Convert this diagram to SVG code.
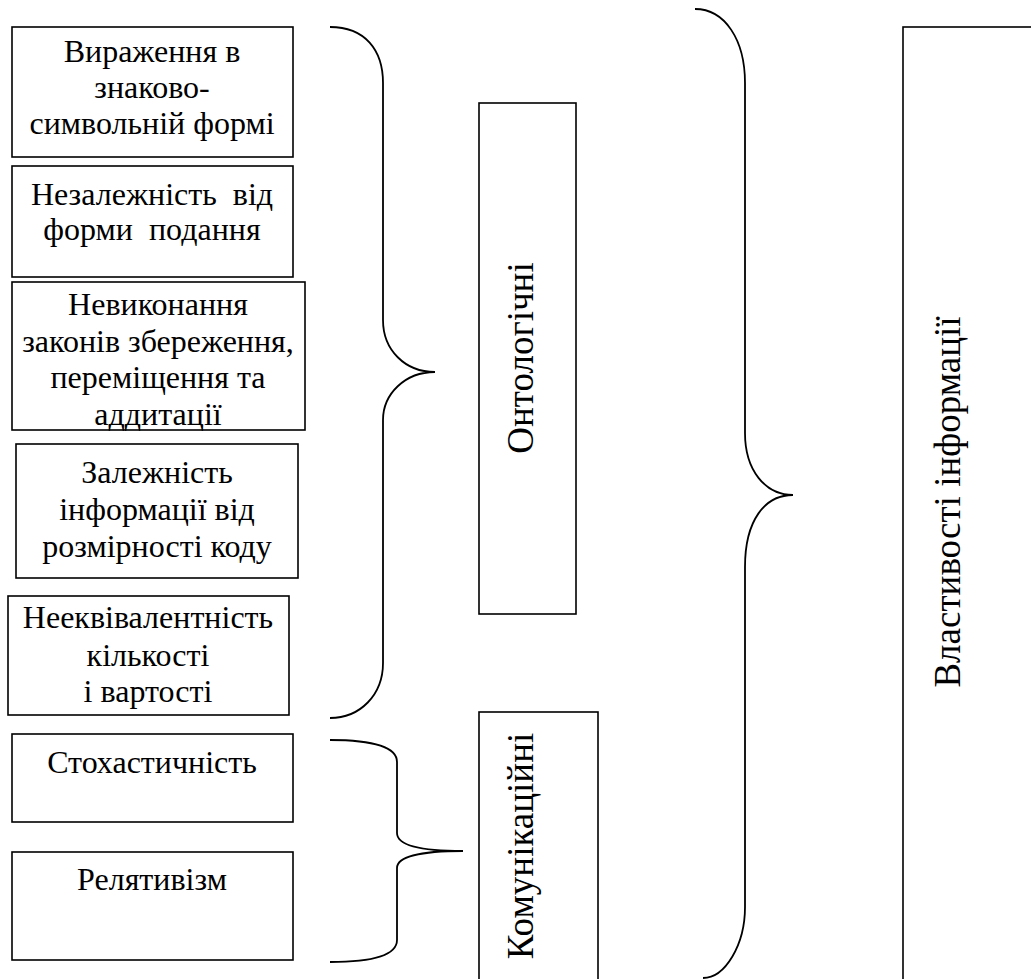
<svg xmlns="http://www.w3.org/2000/svg" width="1031" height="979" viewBox="0 0 1031 979">
<style>
.box{fill:#fff;stroke:#000;stroke-width:1.6}
.t{font-family:"Liberation Serif","Times New Roman",serif;font-size:32px;fill:#000;text-anchor:middle}
.v{font-family:"Liberation Serif","Times New Roman",serif;font-size:37px;fill:#000;text-anchor:middle}
.br{fill:none;stroke:#000;stroke-width:1.8}
</style>
<rect width="1031" height="979" fill="#fff"/>
<g id="n1"><rect class="box" x="12" y="27" width="281" height="130"/>
<text class="t" x="152" y="62">Вираження в</text><text class="t" x="152" y="98">знаково-</text><text class="t" x="152" y="134">символьній формі</text></g>
<g id="n2"><rect class="box" x="12" y="166" width="281" height="111"/>
<text class="t" x="152" y="205" xml:space="preserve">Незалежність  від</text><text class="t" x="152" y="240" xml:space="preserve">форми  подання</text></g>
<g id="n3"><rect class="box" x="12" y="282" width="293" height="148"/>
<text class="t" x="158" y="315">Невиконання</text><text class="t" x="158" y="352">законів збереження,</text><text class="t" x="158" y="388">переміщення та</text><text class="t" x="158" y="425">аддитації</text></g>
<g id="n4"><rect class="box" x="16" y="444" width="282" height="134"/>
<text class="t" x="157" y="483">Залежність</text><text class="t" x="157" y="520">інформації від</text><text class="t" x="157" y="557">розмірності коду</text></g>
<g id="n5"><rect class="box" x="8" y="596" width="281" height="119"/>
<text class="t" x="148" y="628">Нееквівалентність</text><text class="t" x="148" y="666">кількості</text><text class="t" x="148" y="702">і вартості</text></g>
<g id="n6"><rect class="box" x="12" y="734" width="281" height="88"/>
<text class="t" x="152" y="773">Стохастичність</text></g>
<g id="n7"><rect class="box" x="12" y="852" width="281" height="108"/>
<text class="t" x="152" y="890">Релятивізм</text></g>
<g id="n8"><rect class="box" x="479" y="103" width="97" height="511"/>
<text class="v" transform="translate(533,358) rotate(-90)">Онтологічні</text></g>
<g id="n9"><rect class="box" x="479" y="712" width="119" height="280"/>
<text class="v" transform="translate(533,846) rotate(-90)">Комунікаційні</text></g>
<g id="n10"><rect class="box" x="903" y="27" width="140" height="970"/>
<text class="v" transform="translate(960,502) rotate(-90)">Властивості інформації</text></g>
<g id="connectors">
<path class="br" d="M330,27 C365,27 383,50 383,83 L383,320 C383,350 405,372 435,372 C405,372 383,394 383,420 L383,663 C383,695 360,718 330,718"/>
<path class="br" d="M330,740 C375,740 397,748 397,762 L397,833 C397,845 420,851 463,851 C420,851 397,857 397,868 L397,940 C397,955 375,962 330,962"/>
<path class="br" d="M695,9 C725,9 745,40 745,83 L745,433 C745,470 765,495 793,495 C765,495 745,520 745,567 L745,907 C745,945 725,978 703,978"/>
</g>
</svg>
